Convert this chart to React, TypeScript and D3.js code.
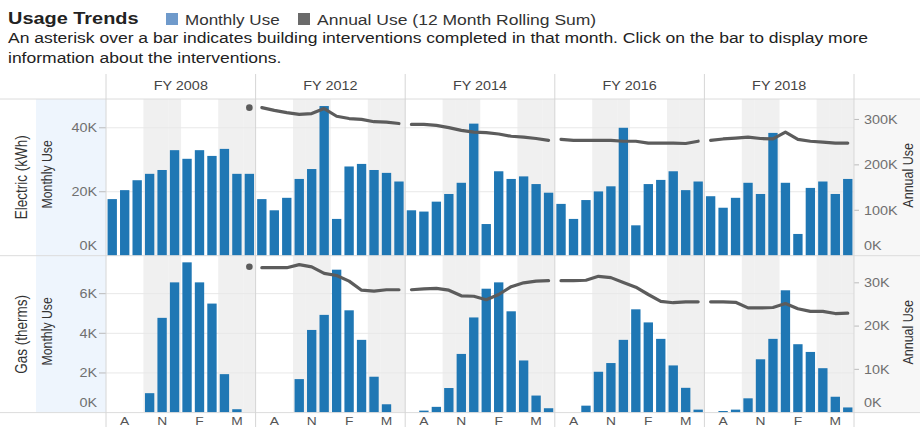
import { useEffect, useRef } from 'react';
import * as d3 from 'd3';

const fiscalYears = ['FY 2008', 'FY 2012', 'FY 2014', 'FY 2016', 'FY 2018'];
const months = ['Jul', 'Aug', 'Sep', 'Oct', 'Nov', 'Dec', 'Jan', 'Feb', 'Mar', 'Apr', 'May', 'Jun'];
const monthAxisLabels = ['', 'A', '', '', 'N', '', '', 'F', '', '', 'M', ''];
// Oct-Dec and Apr-Jun get the grey band
const shadedMonths = ['Oct', 'Nov', 'Dec', 'Apr', 'May', 'Jun'];

const electricMonthly = [
  [17700, 20500, 23600, 25600, 26800, 33000, 30300, 33000, 31200, 33400, 25600, 25600],
  [17700, 14200, 18100, 24000, 27100, 46800, 11500, 27900, 28700, 26800, 25900, 23200],
  [14200, 13800, 16900, 19300, 22800, 41300, 9900, 26400, 24000, 24800, 22400, 19700],
  [16200, 11500, 17400, 20100, 21700, 40000, 9500, 22400, 23700, 26400, 20500, 23200],
  [18600, 15000, 18100, 22800, 19300, 38400, 22800, 6800, 21200, 23200, 19300, 24000],
];
const electricAnnual = [
  [null, null, null, null, null, null, null, null, null, null, null, 326000],
  [326000, 320000, 315000, 311000, 313000, 324000, 307000, 302000, 300000, 295000, 294000, 291000],
  [289000, 289000, 287000, 282000, 276000, 272000, 271000, 268000, 263000, 261000, 258000, 254000],
  [256000, 254000, 254000, 254000, 254000, 252000, 252000, 248000, 248000, 248000, 247000, 252000],
  [254000, 257000, 259000, 261000, 258000, 257000, 272000, 256000, 252000, 250000, 248000, 248000],
];
const gasMonthly = [
  [0, 0, 0, 980, 4780, 6570, 7580, 6570, 5500, 1940, 170, 0],
  [0, 0, 0, 1690, 4170, 4930, 7210, 5160, 3670, 1810, 420, 0],
  [0, 100, 290, 1240, 2960, 4800, 6250, 6570, 5110, 2630, 860, 220],
  [0, 0, 350, 2060, 2500, 3670, 5210, 4550, 3720, 2380, 1250, 150],
  [0, 80, 150, 720, 2690, 3720, 6170, 3450, 3060, 2240, 800, 260],
];
const gasAnnual = [
  [null, null, null, null, null, null, null, null, null, null, null, 33700],
  [33500, 33500, 33500, 34200, 33700, 32200, 31700, 30400, 28300, 28100, 28400, 28400],
  [28400, 28600, 28700, 28300, 27000, 26900, 26100, 27300, 29100, 30000, 30400, 30500],
  [30500, 30500, 30600, 31500, 31200, 30100, 29000, 27300, 25700, 25400, 25600, 25600],
  [25600, 25600, 25500, 24200, 24200, 24300, 25200, 24000, 23400, 23400, 22900, 23000],
];

const electricLeftTicks = [0, 20000, 40000];
const electricRightTicks = [0, 100000, 200000, 300000];
const gasLeftTicks = [0, 2000, 4000, 6000];
const gasRightTicks = [0, 10000, 20000, 30000];

const FONT = 'Arial, "Liberation Sans", Helvetica, sans-serif';
const SX = 1.2; // the reference is rendered with wide glyphs
const BAR = '#1f77b4';
const LINE = '#5c5c5c';

export default function App() {
  const svgRef = useRef<SVGSVGElement>(null);

  useEffect(() => {
    if (!svgRef.current) return;
    const svg = d3.select(svgRef.current);
    svg.selectAll('*').remove();

    const W = 920, H = 427;
    const plotLeft = 106, plotRight = 854;
    const headerTop = 74, headerBottom = 99;

    const text = (
      parent: any, x: number, y: number, str: string,
      o: { size: number; anchor?: string; color?: string; weight?: string; rotate?: boolean }
    ) => {
      const g = parent.append('g').attr('transform', o.rotate
        ? `translate(${x},${y}) rotate(-90) scale(1,${SX})`
        : `translate(${x},${y}) scale(${SX},1)`);
      return g.append('text')
        .attr('text-anchor', o.anchor ?? 'start')
        .attr('dy', o.rotate ? '0.35em' : null)
        .style('font-family', FONT)
        .style('font-size', `${o.size}px`)
        .style('font-weight', o.weight ?? 'normal')
        .style('fill', o.color ?? '#333')
        .text(str);
    };

    const rows = [
      {
        name: 'Electric (kWh)', top: 99, bottom: 255.7,
        monthly: electricMonthly, annual: electricAnnual,
        leftMax: 49000, rightMax: 345000,
        leftTicks: electricLeftTicks, rightTicks: electricRightTicks,
      },
      {
        name: 'Gas (therms)', top: 256, bottom: 412.6,
        monthly: gasMonthly, annual: gasAnnual,
        leftMax: 7900, rightMax: 36200,
        leftTicks: gasLeftTicks, rightTicks: gasRightTicks,
      },
    ];

    const fx = d3.scaleBand<string>().domain(fiscalYears).range([plotLeft, plotRight]);
    const mx = d3.scaleBand<string>().domain(months).range([0, fx.bandwidth()])
      .paddingInner(0.25).paddingOuter(0.125);
    const step = fx.bandwidth() / months.length;

    // Title + legend
    text(svg, 8, 24, 'Usage Trends', { size: 16.6, weight: 'bold', color: '#222' });
    svg.append('rect').attr('x', 166).attr('y', 13).attr('width', 12).attr('height', 12).style('fill', '#6f9acb');
    text(svg, 185, 25, 'Monthly Use', { size: 14.2, color: '#333' });
    svg.append('rect').attr('x', 298).attr('y', 13).attr('width', 12).attr('height', 12).style('fill', '#6a6a6a');
    text(svg, 317, 25, 'Annual Use (12 Month Rolling Sum)', { size: 14.6, color: '#333' });
    text(svg, 8, 43, 'An asterisk over a bar indicates building interventions completed in that month. Click on the bar to display more', { size: 14.6, color: '#222' });
    text(svg, 8, 62.5, 'information about the interventions.', { size: 14.6, color: '#222' });

    // Axis-title backgrounds
    svg.append('rect').attr('x', 36).attr('y', headerBottom).attr('width', plotLeft - 36)
      .attr('height', rows[1].bottom - headerBottom).style('fill', '#eef5fd');
    svg.append('rect').attr('x', plotRight + 1).attr('y', headerBottom).attr('width', W - plotRight - 1)
      .attr('height', rows[1].bottom - headerBottom).style('fill', '#f7f7f7');

    // Header labels
    fiscalYears.forEach(fy => {
      text(svg, (fx(fy) ?? 0) + fx.bandwidth() / 2, 89.5, fy, { size: 12, anchor: 'middle', color: '#444' });
    });

    rows.forEach(row => {
      const yl = d3.scaleLinear().domain([0, row.leftMax]).range([row.bottom, row.top]);
      const yr = d3.scaleLinear().domain([0, row.rightMax]).range([row.bottom, row.top]);

      // Quarter bands
      fiscalYears.forEach(fy => {
        const x0 = fx(fy) ?? 0;
        shadedMonths.forEach(m => {
          const i = months.indexOf(m);
          svg.append('rect')
            .attr('x', x0 + i * step).attr('y', row.top)
            .attr('width', step + 0.3).attr('height', row.bottom - row.top)
            .style('fill', '#f0f0f0');
        });
      });

      // Gridlines
      row.leftTicks.filter(t => t > 0).forEach(t => {
        svg.append('line')
          .attr('x1', plotLeft).attr('x2', plotRight)
          .attr('y1', yl(t)).attr('y2', yl(t))
          .style('stroke', '#e8e8e8').style('stroke-width', 1);
      });

      // Bars
      fiscalYears.forEach((fy, fi) => {
        const x0 = fx(fy) ?? 0;
        svg.append('g').selectAll('rect')
          .data(row.monthly[fi].map((v, i) => ({ m: months[i], v })))
          .enter()
          .append('rect')
          .attr('x', d => x0 + (mx(d.m) ?? 0))
          .attr('y', d => yl(d.v))
          .attr('width', mx.bandwidth())
          .attr('height', d => row.bottom - yl(d.v))
          .style('fill', BAR);
      });

      // Annual lines
      fiscalYears.forEach((fy, fi) => {
        const x0 = fx(fy) ?? 0;
        const pts = row.annual[fi].map((v, i) => ({ m: months[i], v }));
        const line = d3.line<{ m: string; v: number | null }>()
          .defined(d => d.v != null)
          .x(d => x0 + (mx(d.m) ?? 0) + mx.bandwidth() / 2)
          .y(d => yr(d.v as number));
        svg.append('path')
          .attr('d', line(pts))
          .style('fill', 'none')
          .style('stroke', LINE)
          .style('stroke-width', 3.2)
          .style('stroke-linejoin', 'round')
          .style('stroke-linecap', 'round');
        pts.forEach((d, i) => {
          const prev = pts[i - 1]?.v, next = pts[i + 1]?.v;
          if (d.v != null && prev == null && next == null) {
            svg.append('circle')
              .attr('cx', x0 + (mx(d.m) ?? 0) + mx.bandwidth() / 2)
              .attr('cy', yr(d.v))
              .attr('r', 3.3)
              .style('fill', LINE);
          }
        });
      });

      // Left axis
      row.leftTicks.forEach(t => {
        const y = yl(t);
        if (t > 0) {
          svg.append('line').attr('x1', 99).attr('x2', plotLeft).attr('y1', y).attr('y2', y)
            .style('stroke', '#bbb');
        }
        text(svg, 97, t === 0 ? row.bottom - 6 : y + 4.3, `${t / 1000}K`, { size: 12, anchor: 'end', color: '#707070' });
      });

      // Right axis
      row.rightTicks.forEach(t => {
        const y = yr(t);
        if (t > 0) {
          svg.append('line').attr('x1', plotRight).attr('x2', plotRight + 5).attr('y1', y).attr('y2', y)
            .style('stroke', '#bbb');
        }
        text(svg, 864, t === 0 ? row.bottom - 6 : y + 4.3, `${t / 1000}K`, { size: 12, color: '#707070' });
      });

      const cy = (row.top + row.bottom) / 2;
      text(svg, 21, cy, row.name, { size: 13.5, anchor: 'middle', color: '#333', rotate: true });
      text(svg, 47, cy - 3, 'Monthly Use', { size: 12.3, anchor: 'middle', color: '#333', rotate: true });
      text(svg, 908, cy - 2, 'Annual Use', { size: 12.5, anchor: 'middle', color: '#333', rotate: true });
    });

    // Row separators
    [headerBottom, rows[0].bottom, rows[1].bottom].forEach(y => {
      svg.append('line').attr('x1', 0).attr('x2', W).attr('y1', y).attr('y2', y)
        .style('stroke', '#dcdcdc').style('stroke-width', 1);
    });

    // Panel dividers
    [...fiscalYears.map(fy => fx(fy) ?? 0), plotRight].forEach(x => {
      svg.append('line').attr('x1', x).attr('x2', x).attr('y1', headerTop).attr('y2', H)
        .style('stroke', '#d6d6d6').style('stroke-width', 1);
    });

    // Bottom month labels
    fiscalYears.forEach(fy => {
      const x0 = fx(fy) ?? 0;
      months.forEach((m, i) => {
        if (!monthAxisLabels[i]) return;
        text(svg, x0 + (mx(m) ?? 0) + mx.bandwidth() / 2, 425, monthAxisLabels[i], { size: 11.5, anchor: 'middle', color: '#555' });
      });
    });
  }, []);

  return (
    <svg ref={svgRef} width={920} height={427}
      style={{ position: 'absolute', left: 0, top: 0, background: '#fff' }} />
  );
}
